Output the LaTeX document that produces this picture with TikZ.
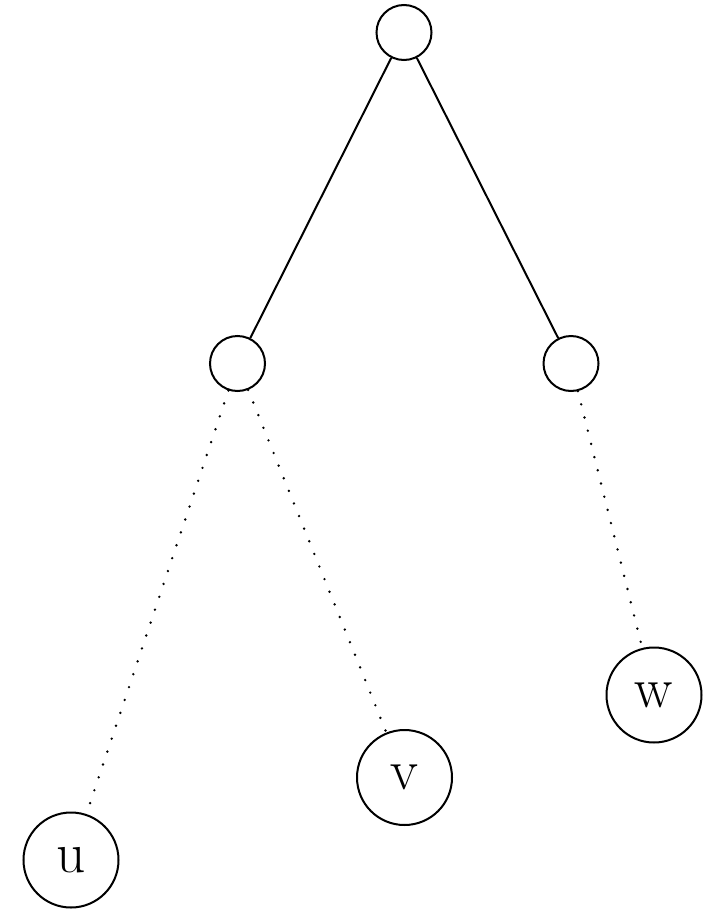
\documentclass[tikz,border=0pt]{standalone}
\begin{document}
\begin{tikzpicture}[x=0.75pt,y=-0.75pt,
  inner/.style={draw,circle,line width=1.5pt,minimum size=41.25pt,inner sep=0pt},
  leaf/.style={draw,circle,line width=1.5pt,minimum size=71.25pt,inner sep=0pt,
    font=\fontsize{43}{50}\selectfont},
  solidedge/.style={line width=1.5pt},
  dotedge/.style={line width=2pt,line cap=round,dash pattern=on 0pt off 10.2pt}]
\useasboundingbox (0,0) rectangle (724,910);
\node[inner] (r) at (404,32.5) {};
\node[inner] (a) at (237.5,363.5) {};
\node[inner] (b) at (571,363.5) {};
\node[leaf] (u) at (71,860) {u};
\node[leaf] (v) at (404.5,777.5) {v};
\node[leaf] (w) at (654,695) {w};
\draw[solidedge] (r) -- (a);
\draw[solidedge] (r) -- (b);
\draw[dotedge] (a) -- (u);
\draw[dotedge] (a) -- (v);
\draw[dotedge] (b) -- (w);
\end{tikzpicture}
\end{document}
